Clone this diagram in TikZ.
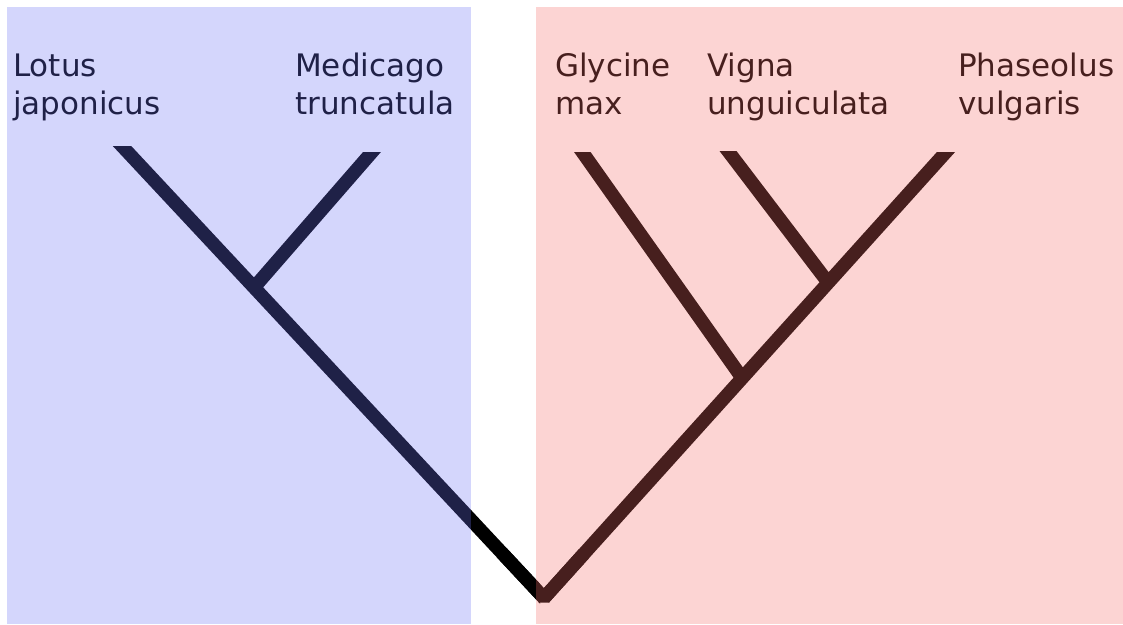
\documentclass[tikz,border=0pt]{standalone}
\usepackage{fontspec}
\setmainfont{DejaVu Sans}
\usetikzlibrary{calc}
\begin{document}
\begin{tikzpicture}[x=1pt,y=-1pt,
  taxon/.style={anchor=base west,inner sep=0pt,align=left,text=black,
    font=\fontsize{31}{37.5}\selectfont},
  branch/.style={draw=black,line width=13.5pt,line cap=butt,line join=bevel},
  cladeshade/.style={fill opacity=0.29}]
\definecolor{galegoid}{RGB}{110,114,248}
\definecolor{phaseoloid}{RGB}{248,110,106}
\useasboundingbox (0,0) rectangle (1123,624);
\fill[white] (0,0) rectangle (1123,624);

% species names (anchored at the baseline of the second line)
\node[taxon] (lotus) at (13,114) {Lotus\\japonicus};
\node[taxon] (medicago) at (295,114) {Medicago\\truncatula};
\node[taxon] (glycine) at (555,114) {Glycine\\max};
\node[taxon] (vigna) at (707,114) {Vigna\\unguiculata};
\node[taxon] (phaseolus) at (958,114) {Phaseolus\\vulgaris};

% branch points and leaf tips
\coordinate (root) at (544,598);
\coordinate (tipL) at (122,146);
\coordinate (tipM) at (372,152);
\coordinate (tipG) at (583,153);
\coordinate (tipV) at (728,151);
\coordinate (tipP) at (946,152);
\coordinate (jLM) at ($(root)!0.687!(tipL)$);
\coordinate (jGVP) at ($(root)!0.493!(tipP)$);
\coordinate (jVP) at ($(root)!0.707!(tipP)$);

% tree: leaf ends are cut flat at the tip heights
\begin{scope}
  \clip (0,146) rectangle (540,624);
  \draw[branch] ($(root)!-0.03!(tipL)$) -- ($(tipL)!-0.03!(root)$);
\end{scope}
\begin{scope}
  \clip (0,152) rectangle (1123,624);
  \draw[branch] (jLM) -- ($(tipM)!-0.05!(jLM)$);
  \draw[branch] (jGVP) -- ($(tipG)!-0.05!(jGVP)$);
  \draw[branch] (root) -- ($(tipP)!-0.03!(root)$);
\end{scope}
\begin{scope}
  \clip (0,151) rectangle (1123,624);
  \draw[branch] (jVP) -- ($(tipV)!-0.05!(jVP)$);
\end{scope}
\draw[branch] ($(root)!0.1!(tipL)$) -- (root) -- ($(root)!0.1!(tipP)$);

% translucent clade panels
\fill[galegoid,cladeshade] (7,7) rectangle (471,624);
\fill[phaseoloid,cladeshade] (536,7) rectangle (1123,624);
\end{tikzpicture}
\end{document}
